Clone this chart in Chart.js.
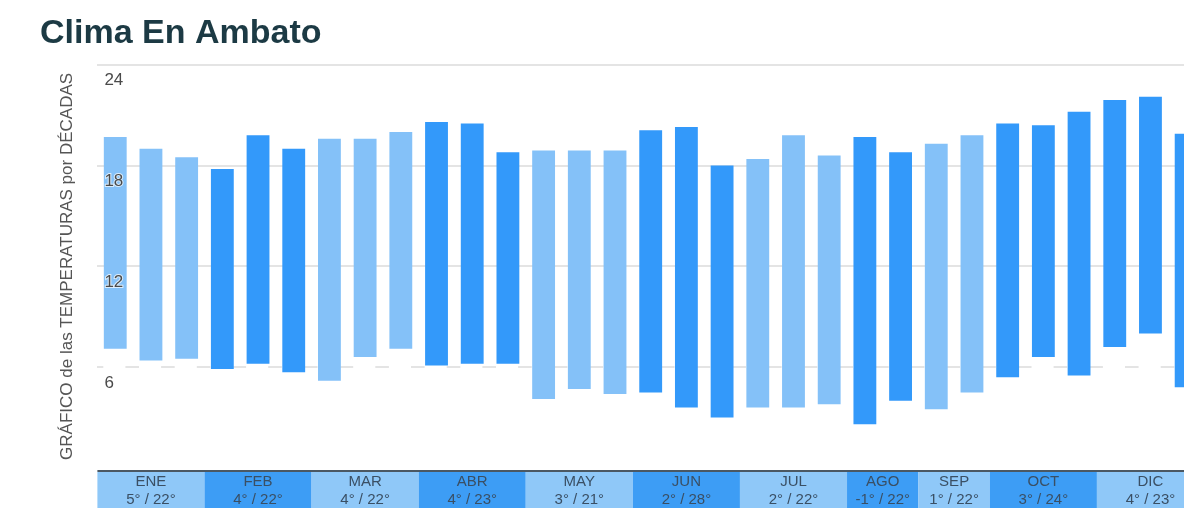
<!DOCTYPE html>
<html>
<head>
<meta charset="utf-8">
<title>Clima En Ambato</title>
<script src="https://cdn.jsdelivr.net/npm/chart.js@4.4.1/dist/chart.umd.min.js"></script>
<style>
  html, body { margin: 0; padding: 0; background: #fff; overflow: hidden; }
  #wrap { width: 1204px; height: 512px; }
</style>
</head>
<body>
<div id="wrap"><canvas id="climaChart"></canvas></div>
<script>
// Month band under the chart (as shown in the picture, NOV is not there)
const bandMonths = ['ENE', 'FEB', 'MAR', 'ABR', 'MAY', 'JUN', 'JUL', 'AGO', 'SEP', 'OCT', 'DIC'];
const bandMin = [5, 4, 4, 4, 3, 2, 2, -1, 1, 3, 4];
const bandMax = [22, 22, 22, 23, 21, 28, 22, 22, 22, 24, 23];
// how many decade bars sit under each month cell
const bandDecades = [3, 3, 3, 3, 3, 3, 3, 2, 2, 3, 3];

// Decade bars: low / high temperature
const decadeMin = [7.1, 6.4, 6.5, 5.9, 6.2, 5.7, 5.2, 6.6, 7.1, 6.1, 6.2, 6.2, 4.1, 4.7, 4.4, 4.5,
    3.6, 3.0, 3.6, 3.6, 3.8, 2.6, 4.0, 3.5, 4.5, 5.4, 6.6, 5.5, 7.2, 8.0, 4.8];
const decadeMax = [19.7, 19.0, 18.5, 17.8, 19.8, 19.0, 19.6, 19.6, 20.0, 20.6, 20.5, 18.8, 18.9, 18.9, 18.9, 20.1,
    20.3, 18.0, 18.4, 19.8, 18.6, 19.7, 18.8, 19.3, 19.8, 20.5, 20.4, 21.2, 21.9, 22.1, 19.9];
const decadeShade = ['claro', 'claro', 'claro', 'oscuro', 'oscuro', 'oscuro', 'claro', 'claro', 'claro',
    'oscuro', 'oscuro', 'oscuro', 'claro', 'claro', 'claro', 'oscuro', 'oscuro', 'oscuro',
    'claro', 'claro', 'claro', 'oscuro', 'oscuro', 'claro', 'claro', 'oscuro', 'oscuro', 'oscuro',
    'oscuro', 'oscuro', 'oscuro'];

const yTicks = [0, 6, 12, 18, 24];

// category labels, one per decade bar
const decadeLabels = [];
bandMonths.forEach(function (m, i) {
    for (let d = 1; d <= bandDecades[i]; d++) decadeLabels.push(m + ' ' + d);
});

const shadeColors = { claro: '#84c1f8', oscuro: '#3399fa' };

Chart.defaults.font.family = '"Liberation Sans", Arial, sans-serif';

// draws the coloured month strip below the plot
const monthBand = {
    id: 'monthBand',
    afterDraw(chart) {
        const { ctx, chartArea } = chart;
        const x = chart.scales.x;
        const step = x.getPixelForValue(1) - x.getPixelForValue(0);
        const top = chartArea.bottom + 4;
        const h = 36;
        let idx = 0;
        ctx.save();
        bandMonths.forEach(function (m, i) {
            const left = x.getPixelForValue(idx) - step / 2;
            const right = x.getPixelForValue(idx + bandDecades[i] - 1) + step / 2;
            idx += bandDecades[i];
            ctx.fillStyle = i % 2 ? '#3d9df5' : '#8fc8f8';
            ctx.fillRect(left, top, right - left, h);
            const cx = (left + right) / 2;
            ctx.fillStyle = '#3a4f64';
            ctx.font = '15px "Liberation Sans", Arial, sans-serif';
            ctx.textAlign = 'center';
            ctx.textBaseline = 'middle';
            ctx.fillText(m, cx, top + 10);
            ctx.fillText(bandMin[i] + '° / ' + bandMax[i] + '°', cx, top + 28);
        });
        ctx.fillStyle = '#4b5863';
        ctx.fillRect(chartArea.left, chartArea.bottom + 2, chartArea.right - chartArea.left, 2);
        ctx.restore();
    }
};

new Chart(document.getElementById('climaChart'), {
    type: 'bar',
    data: {
        labels: decadeLabels,
        datasets: [{
            data: decadeMin.map(function (lo, i) { return [lo, decadeMax[i]]; }),
            backgroundColor: decadeShade.map(function (s) { return shadeColors[s]; }),
            borderWidth: 0,
            borderSkipped: false,
            barPercentage: 0.64,
            categoryPercentage: 1
        }]
    },
    options: {
        responsive: true,
        maintainAspectRatio: false,
        animation: false,
        layout: { padding: { left: 40, top: 0, right: 0, bottom: 44 } },
        plugins: {
            legend: { display: false },
            tooltip: { enabled: false },
            title: {
                display: true,
                text: 'Clima En Ambato',
                align: 'start',
                color: '#1c3a44',
                font: { size: 34, weight: 'bold' },
                padding: { top: 13, bottom: 11 }
            }
        },
        scales: {
            x: { display: false, offset: true },
            y: {
                position: 'left',
                min: 0,
                max: 24,
                afterBuildTicks: function (axis) {
                    axis.ticks = yTicks.map(function (v) { return { value: v }; });
                },
                grid: {
                    drawTicks: false,
                    lineWidth: 2,
                    color: function (c) { return c.tick && c.tick.value === 0 ? 'rgba(0,0,0,0)' : '#e4e4e4'; }
                },
                border: {
                    display: false,
                    dash: function (c) { return c.tick && c.tick.value === 6 ? [13.6, 22.1] : []; },
                    dashOffset: 7.3
                },
                ticks: {
                    z: 1,
                    mirror: true,
                    padding: 7,
                    labelOffset: 16,
                    color: '#4a4a4a',
                    font: { size: 17 },
                    textStrokeColor: 'rgba(255,255,255,0.7)',
                    textStrokeWidth: 2,
                    callback: function (v) { return v === 0 ? '' : v; }
                },
                title: {
                    display: true,
                    text: 'GRÁFICO de las TEMPERATURAS por DÉCADAS',
                    color: '#555',
                    font: { size: 17 },
                    padding: { top: 17, bottom: 6 }
                }
            }
        }
    },
    plugins: [monthBand]
});
</script>
</body>
</html>
